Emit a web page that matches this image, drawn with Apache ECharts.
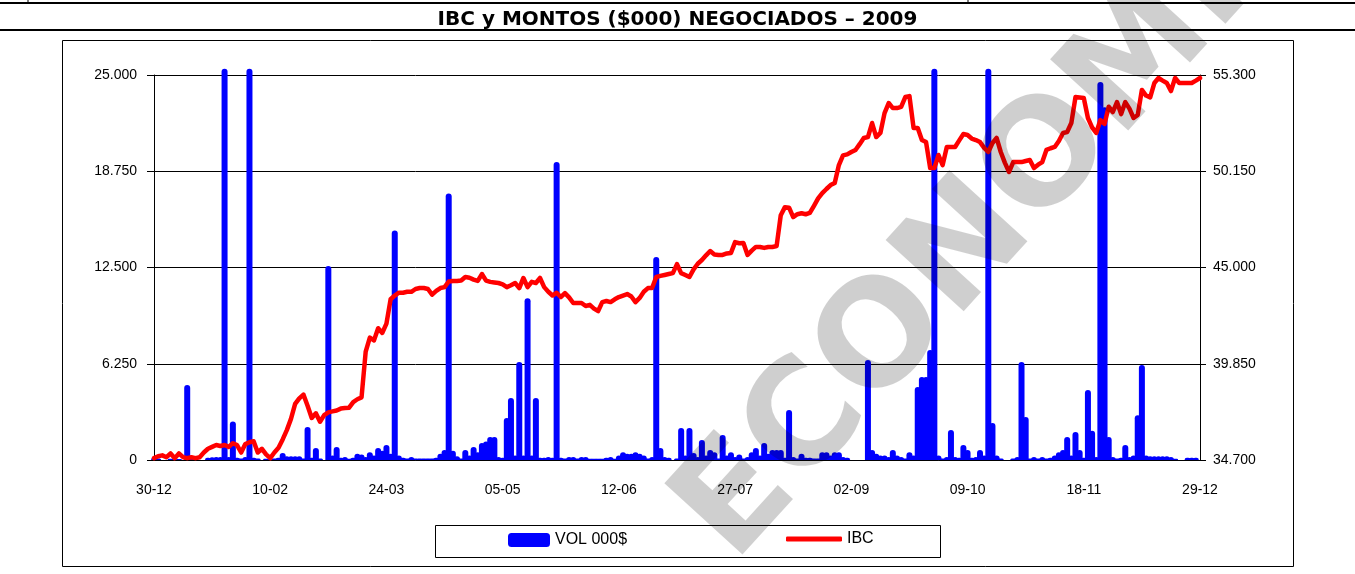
<!DOCTYPE html>
<html>
<head>
<meta charset="utf-8">
<title>IBC y MONTOS ($000) NEGOCIADOS - 2009</title>
<script src="https://cdn.jsdelivr.net/npm/echarts@6/dist/echarts.min.js"></script>
<style>
  html, body { margin: 0; padding: 0; background: #fff; }
  #main { width: 1355px; height: 574px; }
</style>
</head>
<body>
<div id="main"></div>
<script>
// fechas que se muestran en el eje X (una cada 28 ruedas)
var tickLabels = ['30-12', '10-02', '24-03', '05-05', '12-06', '27-07', '02-09', '09-10', '18-11', '29-12'];
var step = 28;

// IBC diario (eje derecho)
var ibc = [
  34800, 34900, 34950, 34850, 35050, 34800, 35050, 34850, 34800, 34850,
  34800, 34850, 35100, 35300, 35400, 35500, 35450, 35500, 35400, 35600,
  35500, 35100, 35550, 35650, 35700, 35100, 35300, 35000, 34800, 35100,
  35350, 35800, 36300, 36900, 37700, 38000, 38200, 37600, 36950, 37200,
  36750, 37100, 37250, 37300, 37350, 37450, 37480, 37500, 37800, 37950,
  38050, 40500, 41250, 41100, 41750, 41500, 42000, 43300, 43500, 43650,
  43650, 43700, 43700, 43850, 43900, 43900, 43850, 43550, 43750, 43900,
  43950, 44250, 44280, 44280, 44300, 44490, 44450, 44350, 44280, 44650,
  44300, 44230, 44200, 44170, 44100, 43950, 44050, 44170, 43900, 44440,
  43950, 44230, 44170, 44440, 43950, 43700, 43500, 43650, 43420, 43630,
  43400, 43100, 43100, 43100, 42940, 43000, 42800, 42670, 43150, 43210,
  43150, 43300, 43420, 43500, 43580, 43450, 43150, 43370, 43700, 43900,
  43900, 44490, 44550, 44600, 44650, 44700, 45180, 44700, 44600, 44490,
  44900, 45200, 45400, 45650, 45880, 45700, 45670, 45670, 45750, 45780,
  46360, 46300, 46310, 45670, 45900, 46100, 46100, 46050, 46100, 46100,
  46150, 47800, 48230, 48200, 47700, 47850, 47900, 47850, 47920, 48300,
  48700, 48980, 49200, 49410, 49520, 50480, 51000, 51050, 51180, 51290,
  51600, 51930, 51980, 52730, 51980, 52200, 53260, 53800, 53530, 53530,
  53600, 54120, 54170, 52460, 52460, 51820, 51710, 50320, 50320, 51020,
  50480, 51450, 51450, 51450, 51800, 52140, 52090, 51900, 51820, 51710,
  51400, 51180, 51660, 51930, 51180, 50600, 50110, 50640, 50640, 50640,
  50700, 50750, 50320, 50500, 50640, 51290, 51380, 51450, 51770, 52200,
  52250, 52730, 54120, 54100, 54070, 53000, 52500, 52200, 52890, 52680,
  53600, 53320, 53850, 53210, 53850, 53500, 53000, 53160, 54500, 54200,
  54100, 54870, 55140, 55000, 54870, 54440, 55140, 54870, 54870, 54870,
  54870, 55000, 55140
];

// montos negociados en miles de $ (eje izquierdo); las barras muy altas salen del gráfico
var vol = [
  150, 100, 0, 0, 80, 0, 60, 0, 4870, 100,
  80, 0, 0, 150, 180, 200, 200, 25400, 200, 2500,
  150, 100, 200, 25400, 150, 100, 0, 80, 0, 100,
  150, 450, 250, 250, 250, 250, 100, 2140, 150, 780,
  100, 0, 12600, 300, 840, 150, 200, 80, 150, 400,
  350, 200, 500, 300, 780, 600, 970, 400, 14900, 300,
  150, 100, 200, 100, 100, 100, 100, 100, 150, 400,
  650, 17300, 600, 250, 100, 650, 300, 840, 500, 1100,
  1200, 1500, 1500, 200, 150, 2730, 4030, 300, 6360, 300,
  10500, 300, 4030, 150, 150, 200, 150, 19350, 150, 100,
  200, 200, 100, 200, 200, 80, 80, 80, 80, 150,
  200, 80, 300, 500, 400, 400, 500, 400, 300, 100,
  200, 13180, 780, 200, 150, 0, 100, 2080, 300, 2080,
  450, 200, 1300, 300, 650, 500, 100, 1620, 300, 500,
  200, 350, 100, 200, 500, 780, 300, 1100, 400, 650,
  650, 650, 150, 3250, 200, 100, 400, 150, 150, 100,
  100, 500, 500, 300, 500, 500, 200, 150, 0, 0,
  0, 0, 6490, 650, 400, 300, 300, 200, 650, 300,
  200, 100, 500, 300, 4740, 5390, 5390, 7140, 25400, 300,
  100, 200, 1950, 200, 150, 970, 650, 150, 200, 650,
  300, 25400, 2400, 300, 100, 0, 0, 100, 200, 6360,
  2790, 100, 200, 100, 200, 100, 150, 300, 500, 650,
  1500, 300, 1820, 650, 150, 4550, 1900, 200, 24550, 22900,
  1500, 200, 100, 150, 970, 200, 300, 2900, 6170, 300,
  250, 250, 250, 250, 250, 200, 80, 0, 0, 150,
  150, 150, 0
];

var categories = ibc.map(function (v, i) {
  return i % step === 0 ? tickLabels[i / step] : '';
});

function miles(v) {
  return String(v).replace(/\B(?=(\d{3})+(?!\d))/g, '.');
}

var chartDom = document.getElementById('main');
var myChart = echarts.init(chartDom);
var option;

var labelFont = { color: '#000', fontSize: 14, fontFamily: 'Liberation Sans, Arial, sans-serif' };
var legendFont = { color: '#000', fontSize: 16, fontFamily: 'Liberation Sans, Arial, sans-serif' };

option = {
  animation: false,
  backgroundColor: '#fff',
  title: {
    text: 'IBC y MONTOS ($000) NEGOCIADOS – 2009',
    left: 'center',
    top: 5,
    textStyle: { color: '#000', fontSize: 20, fontWeight: 'bold', fontFamily: 'DejaVu Sans' }
  },
  legend: [
    {
      data: ['VOL 000$'],
      left: 508,
      top: 532,
      padding: 0,
      icon: 'roundRect',
      itemWidth: 42,
      itemHeight: 14,
      textStyle: legendFont
    },
    {
      data: ['IBC'],
      left: 786,
      top: 531,
      padding: 0,
      icon: 'roundRect',
      itemWidth: 56,
      itemHeight: 5,
      textStyle: legendFont
    }
  ],
  grid: { left: 154, right: 155, top: 75, bottom: 114 },
  xAxis: {
    type: 'category',
    data: categories,
    boundaryGap: false,
    axisLine: { lineStyle: { color: '#000', width: 1 } },
    axisTick: { show: false },
    axisLabel: Object.assign({ interval: step - 1, margin: 23 }, labelFont),
    splitLine: { show: false }
  },
  yAxis: [
    {
      type: 'value',
      min: 0,
      max: 25000,
      interval: 6250,
      position: 'left',
      axisLine: { show: true, lineStyle: { color: '#000' } },
      axisTick: { show: true, length: 7, lineStyle: { color: '#000' } },
      axisLabel: Object.assign({ margin: 17, formatter: miles }, labelFont),
      splitLine: { show: true, lineStyle: { color: '#000', width: 1 } }
    },
    {
      type: 'value',
      min: 34700,
      max: 55300,
      alignTicks: true,
      position: 'right',
      axisLine: { show: true, lineStyle: { color: '#000' } },
      axisTick: { show: true, length: 6, lineStyle: { color: '#000' } },
      axisLabel: Object.assign({ margin: 13, formatter: miles }, labelFont),
      splitLine: { show: false }
    }
  ],
  series: [
    {
      name: 'VOL 000$',
      type: 'bar',
      data: vol,
      barWidth: 6,
      clip: false,
      itemStyle: { color: '#0000ff', borderRadius: [3, 3, 0, 0] }
    },
    {
      name: 'IBC',
      type: 'line',
      yAxisIndex: 1,
      data: ibc,
      showSymbol: false,
      symbol: 'none',
      itemStyle: { color: '#ff0000' },
      lineStyle: { color: '#ff0000', width: 4.5, join: 'round', cap: 'round' }
    }
  ],
  graphic: [
    { type: 'line', shape: { x1: 0, y1: 3, x2: 1355, y2: 3 }, style: { stroke: '#000', lineWidth: 2 } },
    { type: 'line', shape: { x1: 28, y1: 0, x2: 28, y2: 3 }, style: { stroke: '#000', lineWidth: 1 } },
    { type: 'line', shape: { x1: 968, y1: 0, x2: 968, y2: 3 }, style: { stroke: '#000', lineWidth: 1 } },
    { type: 'line', shape: { x1: 0, y1: 30, x2: 1355, y2: 30 }, style: { stroke: '#000', lineWidth: 2 } },
    { type: 'rect', shape: { x: 62.5, y: 40.5, width: 1231, height: 526 }, style: { fill: null, stroke: '#000', lineWidth: 1 } },
    { type: 'rect', shape: { x: 435.5, y: 525.5, width: 505, height: 32 }, style: { fill: null, stroke: '#000', lineWidth: 1 } },
    {
      // marca de agua
      type: 'text',
      x: 1003,
      y: 212,
      rotation: 47.7 * Math.PI / 180,
      z: 100,
      silent: true,
      style: {
        text: 'ECONOMÍA',
        font: 'bold 145px "DejaVu Sans"',
        fill: 'rgba(0,0,0,0.19)',
        align: 'center',
        verticalAlign: 'middle'
      }
    }
  ]
};

option && myChart.setOption(option);
</script>
</body>
</html>
